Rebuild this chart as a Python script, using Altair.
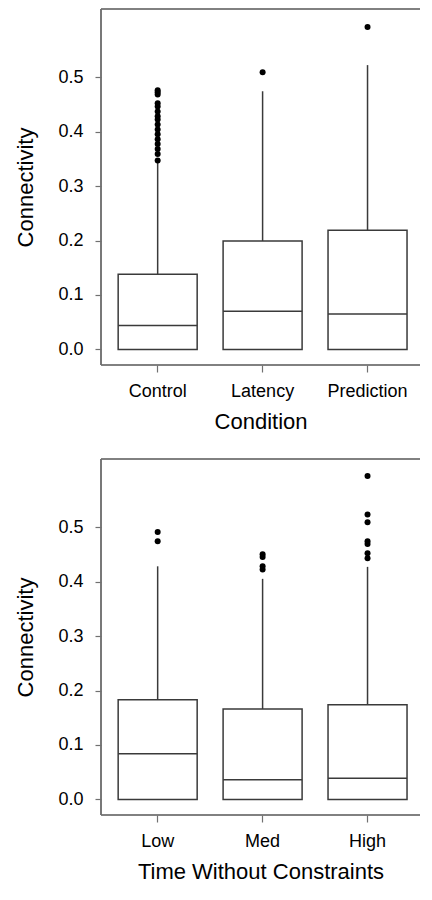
import altair as alt
import pandas as pd

# ---- Panel 1: Condition ----
cond_groups = ["Control", "Latency", "Prediction"]
cond_q1 = [0.0, 0.0, 0.0]
cond_median = [0.044, 0.070, 0.065]
cond_q3 = [0.138, 0.199, 0.219]
cond_whisker_hi = [0.343, 0.474, 0.522]
cond_out_control = [0.476, 0.472, 0.468, 0.452, 0.446, 0.437, 0.428, 0.422, 0.413,
                    0.404, 0.395, 0.386, 0.377, 0.368, 0.359, 0.347]
cond_out_latency = [0.509]
cond_out_prediction = [0.592]

# ---- Panel 2: Time Without Constraints ----
time_groups = ["Low", "Med", "High"]
time_q1 = [0.0, 0.0, 0.0]
time_median = [0.084, 0.036, 0.039]
time_q3 = [0.183, 0.166, 0.174]
time_whisker_hi = [0.428, 0.405, 0.427]
time_out_low = [0.491, 0.474]
time_out_med = [0.450, 0.445, 0.428, 0.422]
time_out_high = [0.594, 0.523, 0.509, 0.474, 0.469, 0.452, 0.443]

y_ticks = [0.0, 0.1, 0.2, 0.3, 0.4, 0.5]

FONT = "Liberation Sans"
BOX_COLOR = "#3a3a3a"
AXIS_COLOR = "#707070"
W, H = 319, 356
BOX_W = 79


def panel(groups, q1, med, q3, whi, outliers, xtitle):
    stats = pd.DataFrame({"g": groups, "q1": q1, "med": med, "q3": q3, "whi": whi})
    rows = []
    for g, vals in zip(groups, outliers):
        for v in vals:
            rows.append({"g": g, "v": v})
    out = pd.DataFrame(rows)

    x = alt.X(
        "g:N",
        sort=groups,
        scale=alt.Scale(paddingInner=0, paddingOuter=0.02, align=1),
        axis=alt.Axis(
            title=xtitle,
            labelAngle=0,
            domain=False,
            tickSize=7,
            tickColor=AXIS_COLOR,
            tickWidth=1.2,
            bandPosition=0.5,
            labelPadding=10,
            titlePadding=11,
            labelFont=FONT,
            titleFont=FONT,
            labelFontSize=18,
            titleFontSize=22,
            titleFontWeight="normal",
            labelColor="black",
            titleColor="black",
        ),
    )
    yscale = alt.Scale(domain=[-0.0285, 0.625], nice=False, zero=False)
    y_axis = alt.Axis(
        title="Connectivity",
        values=y_ticks,
        format=".1f",
        domain=False,
        grid=False,
        tickSize=6,
        tickColor=AXIS_COLOR,
        tickWidth=1.2,
        labelPadding=12,
        titlePadding=20,
        labelFont=FONT,
        titleFont=FONT,
        labelFontSize=18,
        titleFontSize=22,
        titleFontWeight="normal",
        labelColor="black",
        titleColor="black",
    )

    base = alt.Chart(stats)
    whisker = base.mark_rule(color=BOX_COLOR, strokeWidth=1.5).encode(
        x=x,
        y=alt.Y("q3:Q", scale=yscale, axis=y_axis),
        y2="whi:Q",
    )
    box = base.mark_bar(
        size=BOX_W, fill="white", stroke=BOX_COLOR, strokeWidth=1.5, opacity=1
    ).encode(
        x=x,
        y=alt.Y("q1:Q", scale=yscale, axis=y_axis),
        y2="q3:Q",
    )
    median = base.mark_tick(
        size=BOX_W, thickness=1.5, color=BOX_COLOR, opacity=1
    ).encode(
        x=x,
        y=alt.Y("med:Q", scale=yscale, axis=y_axis),
    )
    points = alt.Chart(out).mark_circle(size=36, color="black", opacity=1).encode(
        x=x,
        y=alt.Y("v:Q", scale=yscale, axis=y_axis),
    )
    frame_style = dict(color=AXIS_COLOR, strokeWidth=1.2)
    frame_top = base.mark_rule(**frame_style).encode(
        x=alt.value(0), x2=alt.value(W), y=alt.value(0)
    )
    frame_bottom = base.mark_rule(**frame_style).encode(
        x=alt.value(0), x2=alt.value(W), y=alt.value(H)
    )
    frame_left = base.mark_rule(**frame_style).encode(
        x=alt.value(0), y=alt.value(0), y2=alt.value(H)
    )
    return alt.layer(
        frame_top, frame_bottom, frame_left, whisker, box, median, points
    ).properties(width=W, height=H)


top = panel(
    cond_groups, cond_q1, cond_median, cond_q3, cond_whisker_hi,
    [cond_out_control, cond_out_latency, cond_out_prediction],
    "Condition",
)
bottom = panel(
    time_groups, time_q1, time_median, time_q3, time_whisker_hi,
    [time_out_low, time_out_med, time_out_high],
    "Time Without Constraints",
)

chart = (
    alt.vconcat(top, bottom, spacing=26)
    .properties(padding={"left": 6, "top": 0, "right": 0, "bottom": 0})
    .configure_view(strokeWidth=0)
)

chart.save("out.html", embed_options={"renderer": "svg", "actions": False})
